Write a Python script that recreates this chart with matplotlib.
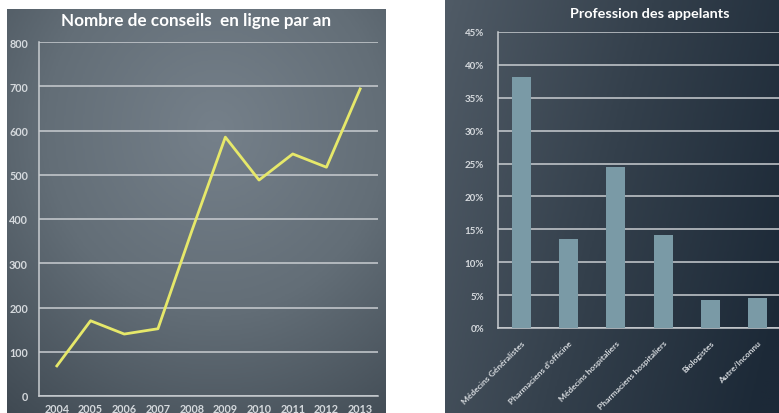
import numpy as np
import matplotlib
matplotlib.use("Agg")
import matplotlib.pyplot as plt
from matplotlib.colors import LinearSegmentedColormap

years = [2004, 2005, 2006, 2007, 2008, 2009, 2010, 2011, 2012, 2013]
conseils = [68, 170, 140, 152, 372, 585, 488, 547, 517, 694]

professions = ["Médecins Généralistes", "Pharmaciens d'officine", "Médecins hospitaliers",
               "Pharmaciens hospitaliers", "Biologistes", "Autre/Inconnu"]
parts = [38.2, 13.6, 24.5, 14.2, 4.3, 4.55]

W, H = 779, 414
fig = plt.figure(figsize=(W / 100, H / 100), dpi=100)
fig.patch.set_facecolor("white")

def fx(px):
    return px / W

def fy(py):
    return 1 - py / H

FONT = "Lato"
GRID = "#c9cdd1"
TXT = "#d5d9dd"

# ---- Left panel background (radial gradient)
bg1 = fig.add_axes([fx(7), fy(414), fx(386 - 7), (414 - 10) / H])
ny, nx = 200, 200
yy, xx = np.mgrid[0:1:ny * 1j, 0:1:nx * 1j]
r = np.sqrt(((xx - 0.55) / 0.9) ** 2 + ((yy - 0.3) / 0.9) ** 2)
r = np.clip(r, 0, 1)
cm1 = LinearSegmentedColormap.from_list("c1", ["#75808a", "#636e77", "#3f4952"])
bg1.imshow(r, cmap=cm1, aspect="auto", extent=[0, 1, 1, 0], vmin=0, vmax=1)
bg1.set_axis_off()

# ---- Right panel background (linear gradient)
bg2 = fig.add_axes([fx(445), 0, fx(779 - 445), 1])
t = np.clip(0.8 * xx + 0.25 * yy, 0, 1)
cm2 = LinearSegmentedColormap.from_list("c2", ["#505b66", "#34404c", "#1c2937"])
bg2.imshow(t, cmap=cm2, aspect="auto", extent=[0, 1, 1, 0], vmin=0, vmax=1)
bg2.set_axis_off()

# ---- Left chart
ax1 = fig.add_axes([fx(39), fy(397), fx(378 - 39), (397 - 43) / H])
ax1.patch.set_alpha(0)
ax1.plot(years, conseils, color="#e6e86a", lw=2.0, zorder=3)
ax1.set_xlim(2003.47, 2013.53)
ax1.set_ylim(0, 800)
ax1.set_yticks(range(0, 801, 100))
ax1.set_xticks(years)
ax1.grid(axis="y", color=GRID, lw=1.1)
ax1.set_axisbelow(True)
for s in ["top", "right"]:
    ax1.spines[s].set_visible(False)
for s in ["left", "bottom"]:
    ax1.spines[s].set_color(GRID)
    ax1.spines[s].set_linewidth(1.1)
ax1.tick_params(length=0, colors=TXT, labelsize=7.8)
ax1.tick_params(axis="x", pad=5)
ax1.tick_params(axis="y", pad=8)
for lab in ax1.get_xticklabels() + ax1.get_yticklabels():
    lab.set_fontfamily(FONT)
    lab.set_fontweight("bold")
fig.text(fx(196), fy(21), "Nombre de conseils  en ligne par an", color="white",
         fontsize=12.3, fontweight="bold", family=FONT, ha="center", va="center")

# ---- Right chart
ax2 = fig.add_axes([fx(498), fy(329), fx(781 - 498), (329 - 33) / H])
ax2.patch.set_alpha(0)
x = np.arange(len(professions))
ax2.bar(x, parts, width=0.4, color="#7a9aa6", zorder=3)
ax2.set_xlim(-0.5, 5.5)
ax2.set_ylim(0, 45)
ax2.set_yticks(range(0, 46, 5))
ax2.set_yticklabels([f"{v}%" for v in range(0, 46, 5)])
ax2.grid(axis="y", color=GRID, lw=1.1)
ax2.set_axisbelow(True)
for s in ["top", "right"]:
    ax2.spines[s].set_visible(False)
for s in ["left", "bottom"]:
    ax2.spines[s].set_color(GRID)
    ax2.spines[s].set_linewidth(1.1)
ax2.set_xticks(x)
ax2.set_xticklabels(professions, rotation=45, ha="right", va="top",
                    rotation_mode="anchor")
ax2.tick_params(length=0, colors=TXT, labelsize=7)
ax2.tick_params(axis="x", labelsize=6.1, pad=8)
ax2.tick_params(axis="y", pad=10)
for lab in ax2.get_xticklabels() + ax2.get_yticklabels():
    lab.set_fontfamily(FONT)
    lab.set_fontweight("bold")
fig.text(fx(650), fy(14), "Profession des appelants", color="white",
         fontsize=10.4, fontweight="bold", family=FONT, ha="center", va="center")

fig.savefig("out.png", dpi=100, facecolor=fig.get_facecolor())
